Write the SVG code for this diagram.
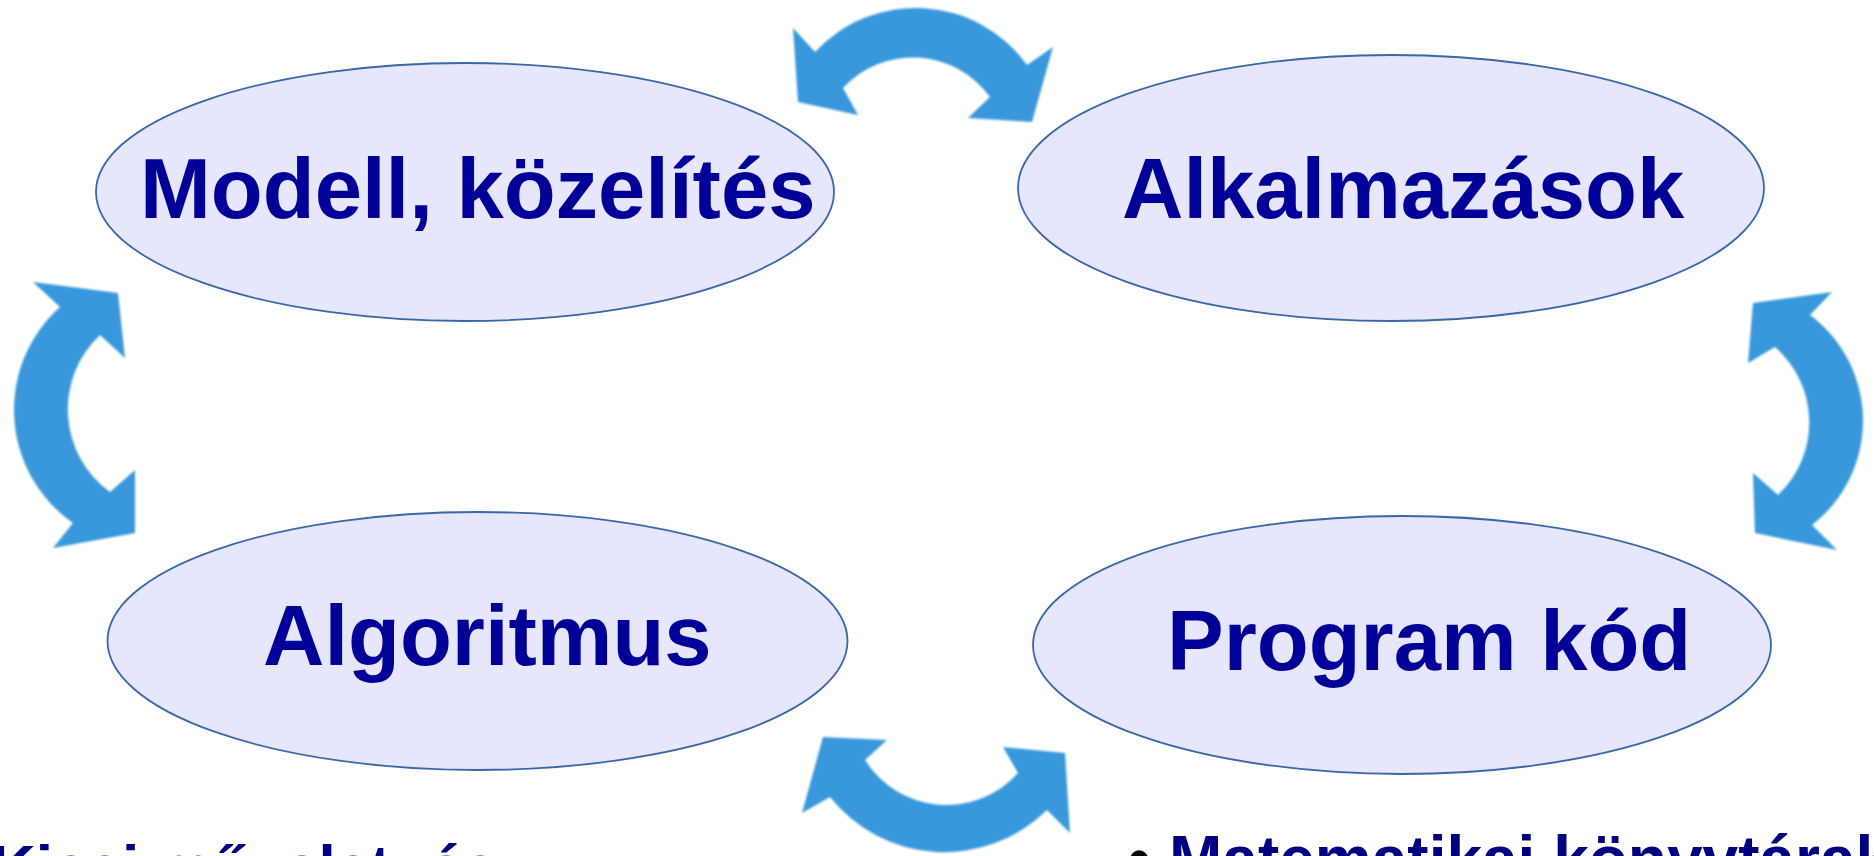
<svg xmlns="http://www.w3.org/2000/svg" width="1874" height="856" viewBox="0 0 1874 856">
<style>
.node ellipse{fill:#e6e6fc;stroke:#3a67a8;stroke-width:1.8}
.lbl{font-family:"Liberation Sans",Arial,sans-serif;font-weight:bold;font-size:85px;fill:#000099}
.note{font-family:"Liberation Sans",Arial,sans-serif;font-weight:bold;font-size:62px;fill:#000080}
.arr{fill:#3998db}
</style>
<defs>
<filter id="soft" x="-5%" y="-5%" width="110%" height="110%"><feGaussianBlur stdDeviation="0.8"/></filter>
</defs>
<rect width="1874" height="856" fill="#ffffff"/>
<g id="connectors" filter="url(#soft)">
<path class="arr" d="M815,52 A137,137 0 0 1 1027,65 L1053,47 L1032,122 L968,118 L990,97 A95,95 0 0 0 843,88 L858,115 L798,102 L793,28 Z"/>
<path class="arr" d="M865,760 A96,96 0 0 0 1018,773 L1003,747 L1065,753 L1070,833 L1047,810 A146,146 0 0 1 830,797 L802,813 L823,737 L887,740 Z"/>
<path class="arr" d="M60,307 A138,138 0 0 0 73,523 L53,548 L135,533 L135,470 L110,492 A102,102 0 0 1 100,335 L125,358 L118,293 L33,282 Z"/>
<path class="arr" d="M1810,315 A132,132 0 0 1 1812,525 L1837,550 L1755,533 L1753,473 L1778,495 A100,100 0 0 0 1775,347 L1748,363 L1753,303 L1832,292 Z"/>
</g>
<g id="node-modell" class="node">
<ellipse cx="465" cy="192" rx="369" ry="129"/>
<text class="lbl" x="140" y="218">Modell, közelítés</text>
</g>
<g id="node-alkalmazasok" class="node">
<ellipse cx="1391" cy="188" rx="373" ry="133"/>
<text class="lbl" x="1122" y="218">Alkalmazások</text>
</g>
<g id="node-algoritmus" class="node">
<ellipse cx="477.5" cy="641" rx="370" ry="129"/>
<text class="lbl" x="263" y="665">Algoritmus</text>
</g>
<g id="node-program" class="node">
<ellipse cx="1402" cy="645" rx="369" ry="129"/>
<text class="lbl" x="1167" y="670">Program kód</text>
</g>
<g id="notes">
<text class="note" x="-9" y="888">Kicsi művelet- és</text>
<text class="note" x="1128" y="881" style="font-size:64px"><tspan fill="#000000">•</tspan><tspan x="1169">Matematikai könyvtárak</tspan></text>
</g>
</svg>
